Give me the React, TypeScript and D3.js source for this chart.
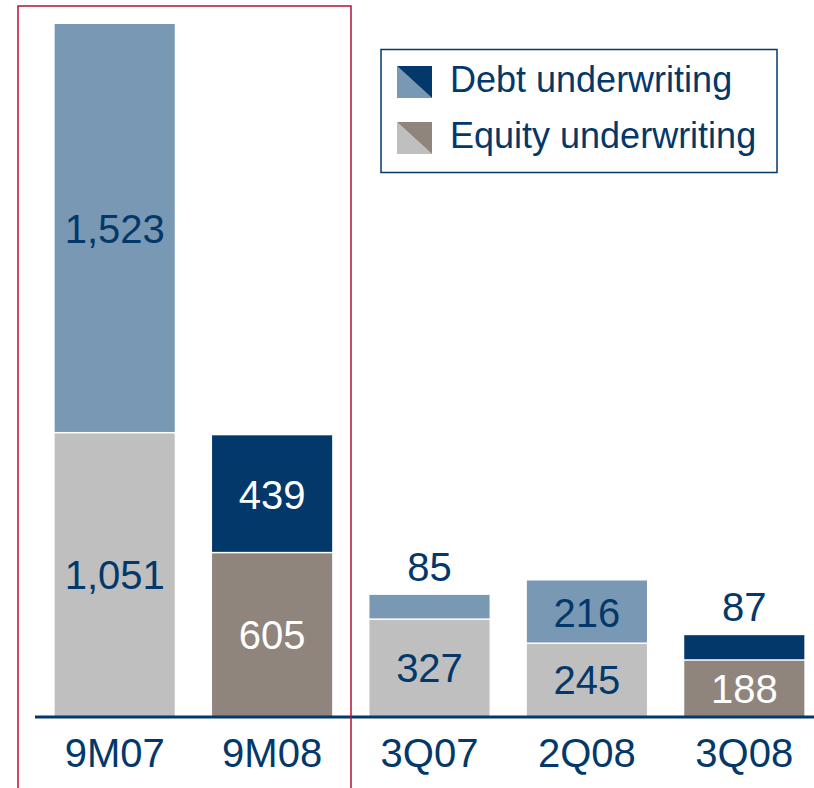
import * as d3 from "d3";

const categories = ["9M07", "9M08", "3Q07", "2Q08", "3Q08"];
const debtValues = [1523, 439, 85, 216, 87];
const equityValues = [1051, 605, 327, 245, 188];
// periods drawn in the darker shades
const currentPeriods = ["9M08", "3Q08"];
// periods inside the red frame (own scale)
const nineMonthPeriods = ["9M07", "9M08"];
const legendLabels = ["Debt underwriting", "Equity underwriting"];

const W = 814;
const H = 788;
const baseY = 716;
const FONT = "'Liberation Sans', Arial, Helvetica, sans-serif";

const NAVY = "#03386a";
const LIGHT_BLUE = "#7898b4";
const LIGHT_GRAY = "#bfbfbf";
const TAUPE = "#8f857c";
const RED = "#b5123a";

const x = d3
  .scaleBand<string>()
  .domain(categories)
  .range([36, 823])
  .paddingInner(0.237)
  .paddingOuter(0.1185);

const total = (c: string) => {
  const i = categories.indexOf(c);
  return debtValues[i] + equityValues[i];
};

const y9 = d3
  .scaleLinear()
  .domain([0, d3.max(nineMonthPeriods, total) as number])
  .range([baseY, 24]);

const qCats = categories.filter((c) => !nineMonthPeriods.includes(c));
const yQ = d3
  .scaleLinear()
  .domain([0, d3.max(qCats, total) as number])
  .range([baseY, 580.5]);

const fmt = d3.format(",");

export default function App() {
  const bars = categories.map((cat, i) => {
    const y = nineMonthPeriods.includes(cat) ? y9 : yQ;
    const cur = currentPeriods.includes(cat);
    const x0 = x(cat) as number;
    const bw = x.bandwidth();
    const cx = x0 + bw / 2;
    const eqTop = y(equityValues[i]);
    const top = y(equityValues[i] + debtValues[i]);
    const debtH = eqTop - top - 1.5;
    const debtInside = debtH > 40;
    return (
      <g key={cat}>
        <rect x={x0} y={eqTop} width={bw} height={baseY - eqTop} fill={cur ? TAUPE : LIGHT_GRAY} />
        <rect x={x0} y={top} width={bw} height={debtH} fill={cur ? NAVY : LIGHT_BLUE} />
        <text
          x={cx}
          y={(eqTop + baseY) / 2}
          dy="0.36em"
          textAnchor="middle"
          fontSize={40}
          fill={cur ? "#ffffff" : NAVY}
        >
          {fmt(equityValues[i])}
        </text>
        <text
          x={cx}
          y={debtInside ? (top + eqTop) / 2 : top - 14}
          dy={debtInside ? "0.36em" : 0}
          textAnchor="middle"
          fontSize={40}
          fill={debtInside && cur ? "#ffffff" : NAVY}
        >
          {fmt(debtValues[i])}
        </text>
        <text x={cx} y={767} textAnchor="middle" fontSize={40} fill={NAVY}>
          {cat}
        </text>
      </g>
    );
  });

  const sw = 35;
  const legendRows = legendLabels.map((label, i) => {
    const ly = 66 + i * 56;
    const lo = i === 0 ? LIGHT_BLUE : LIGHT_GRAY;
    const hi = i === 0 ? NAVY : TAUPE;
    return (
      <g key={label} transform={`translate(397,${ly})`}>
        <path d={`M0,0 L0,${sw - 3} L${sw},${sw - 3} Z`} fill={lo} />
        <path d={`M0,0 L${sw},0 L${sw},${sw - 3} Z`} fill={hi} />
        <text x={53} y={26} fontSize={36} fill={NAVY}>
          {label}
        </text>
      </g>
    );
  });

  return (
    <svg
      width={W}
      height={H}
      style={{ position: "absolute", left: 0, top: 0, background: "#fff" }}
      fontFamily={FONT}
    >
      <rect x={0} y={0} width={W} height={H} fill="#fff" />
      {bars}
      <line x1={35} x2={W} y1={baseY + 1} y2={baseY + 1} stroke={NAVY} strokeWidth={3} />
      <rect x={18} y={6} width={333} height={H + 20} fill="none" stroke={RED} strokeWidth={1.5} />
      <rect x={381} y={49.5} width={396} height={123} fill="none" stroke={NAVY} strokeWidth={1.5} />
      {legendRows}
    </svg>
  );
}
